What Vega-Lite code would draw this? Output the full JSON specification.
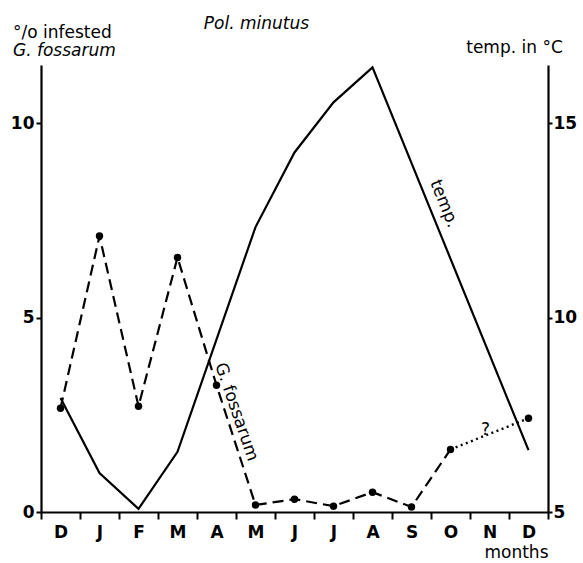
{
  "$schema": "https://vega.github.io/schema/vega-lite/v6.json",
  "width": 507,
  "height": 447,
  "autosize": {"type": "none"},
  "padding": {"left": 41, "top": 65, "right": 35, "bottom": 51},
  "background": "white",
  "config": {
    "view": {"stroke": null},
    "font": "DejaVu Sans",
    "axis": {
      "grid": false,
      "domainColor": "black",
      "domainWidth": 2.2,
      "tickColor": "black",
      "tickWidth": 2,
      "labelColor": "black",
      "labelFontSize": 17,
      "labelFont": "DejaVu Sans",
      "labelFontWeight": "bold",
      "titleFont": "DejaVu Sans",
      "titleFontSize": 17,
      "titleFontWeight": "normal",
      "titleColor": "black"
    }
  },
  "title": {
    "text": "°/o infested",
    "subtitle": "G. fossarum",
    "anchor": "start",
    "frame": "group",
    "dx": -28,
    "dy": 54,
    "offset": 8,
    "font": "DejaVu Sans",
    "fontSize": 17,
    "fontWeight": "normal",
    "color": "black",
    "subtitleFont": "DejaVu Sans",
    "subtitleFontSize": 17,
    "subtitleFontStyle": "italic",
    "subtitleColor": "black",
    "subtitlePadding": 1
  },
  "datasets": {
    "temperature": [
      {"month": "Dec0", "temp": 7.93},
      {"month": "Jan", "temp": 6.0},
      {"month": "Feb", "temp": 5.08},
      {"month": "Mar", "temp": 6.55},
      {"month": "May", "temp": 12.33},
      {"month": "Jun", "temp": 14.25},
      {"month": "Jul", "temp": 15.54},
      {"month": "Aug", "temp": 16.44},
      {"month": "Dec", "temp": 6.59}
    ],
    "infestation": [
      {"month": "Dec0", "pct": 2.67},
      {"month": "Jan", "pct": 7.1},
      {"month": "Feb", "pct": 2.72},
      {"month": "Mar", "pct": 6.55},
      {"month": "Apr", "pct": 3.26},
      {"month": "May", "pct": 0.18},
      {"month": "Jun", "pct": 0.33},
      {"month": "Jul", "pct": 0.15},
      {"month": "Aug", "pct": 0.51},
      {"month": "Sep", "pct": 0.13},
      {"month": "Oct", "pct": 1.61},
      {"month": "Dec", "pct": 2.41}
    ],
    "notes": [
      {"month": "Apr", "pct": 2.4, "label": "G. fossarum"},
      {"month": "Oct", "pct": 8.0, "label": "temp."},
      {"month": "Nov", "pct": 2.11, "label": "?"}
    ]
  },
  "encoding": {
    "x": {
      "field": "month",
      "type": "ordinal",
      "scale": {
        "type": "band",
        "domain": ["Dec0", "Jan", "Feb", "Mar", "Apr", "May", "Jun", "Jul", "Aug", "Sep", "Oct", "Nov", "Dec"],
        "paddingInner": 0,
        "paddingOuter": 0
      },
      "axis": {
        "title": "months",
        "titleAnchor": "end",
        "titlePadding": 4,
        "labelExpr": "substring(datum.label, 0, 1)",
        "labelAngle": 0,
        "labelPadding": 5,
        "tickBand": "extent",
        "tickSize": 7
      }
    }
  },
  "layer": [
    {
      "data": {"name": "temperature"},
      "mark": {"type": "line", "color": "black", "strokeWidth": 2.2},
      "encoding": {
        "y": {
          "field": "temp",
          "type": "quantitative",
          "scale": {"domain": [5, 16.5], "nice": false, "zero": false},
          "axis": {
            "orient": "right",
            "values": [5, 10, 15],
            "tickSize": 4,
            "labelPadding": 1,
            "title": "temp. in °C",
            "titleAngle": 0,
            "titleAlign": "center",
            "titleBaseline": "alphabetic",
            "titleX": -34,
            "titleY": -13
          }
        }
      }
    },
    {
      "layer": [
        {
          "data": {"name": "infestation"},
          "transform": [{"filter": "datum.month != 'Dec'"}],
          "mark": {"type": "line", "color": "black", "strokeWidth": 2.2, "strokeDash": [11, 6]},
          "encoding": {
            "y": {
              "field": "pct",
              "type": "quantitative",
              "scale": {"domain": [0, 11.5], "nice": false, "zero": true},
              "axis": {
                "orient": "left",
                "values": [0, 5, 10],
                "tickSize": 5,
                "labelPadding": 2,
                "title": "Pol. minutus",
                "titleAngle": 0,
                "titleAlign": "center",
                "titleBaseline": "alphabetic",
                "titleFontStyle": "italic",
                "titleX": 215,
                "titleY": -37
              }
            }
          }
        },
        {
          "data": {"name": "infestation"},
          "transform": [{"filter": "datum.month == 'Oct' || datum.month == 'Dec'"}],
          "mark": {"type": "line", "color": "black", "strokeWidth": 2.4, "strokeDash": [2, 3.5]},
          "encoding": {"y": {"field": "pct", "type": "quantitative"}}
        },
        {
          "data": {"name": "infestation"},
          "mark": {"type": "point", "filled": true, "color": "black", "opacity": 1, "size": 55},
          "encoding": {"y": {"field": "pct", "type": "quantitative"}}
        },
        {
          "data": {"name": "notes"},
          "transform": [{"filter": "datum.label == 'G. fossarum'"}],
          "mark": {"type": "text", "fontSize": 17, "angle": 71, "align": "center", "baseline": "middle", "dy": -21, "color": "black"},
          "encoding": {"y": {"field": "pct", "type": "quantitative"}, "text": {"field": "label"}}
        },
        {
          "data": {"name": "notes"},
          "transform": [{"filter": "datum.label == 'temp.'"}],
          "mark": {"type": "text", "fontSize": 17, "angle": 68, "align": "center", "baseline": "middle", "dy": 7, "color": "black"},
          "encoding": {"y": {"field": "pct", "type": "quantitative"}, "text": {"field": "label"}}
        },
        {
          "data": {"name": "notes"},
          "transform": [{"filter": "datum.label == '?'"}],
          "mark": {"type": "text", "fontSize": 17, "align": "center", "baseline": "middle", "dx": -4, "color": "black"},
          "encoding": {"y": {"field": "pct", "type": "quantitative"}, "text": {"field": "label"}}
        }
      ]
    }
  ],
  "resolve": {"scale": {"y": "independent"}}
}
